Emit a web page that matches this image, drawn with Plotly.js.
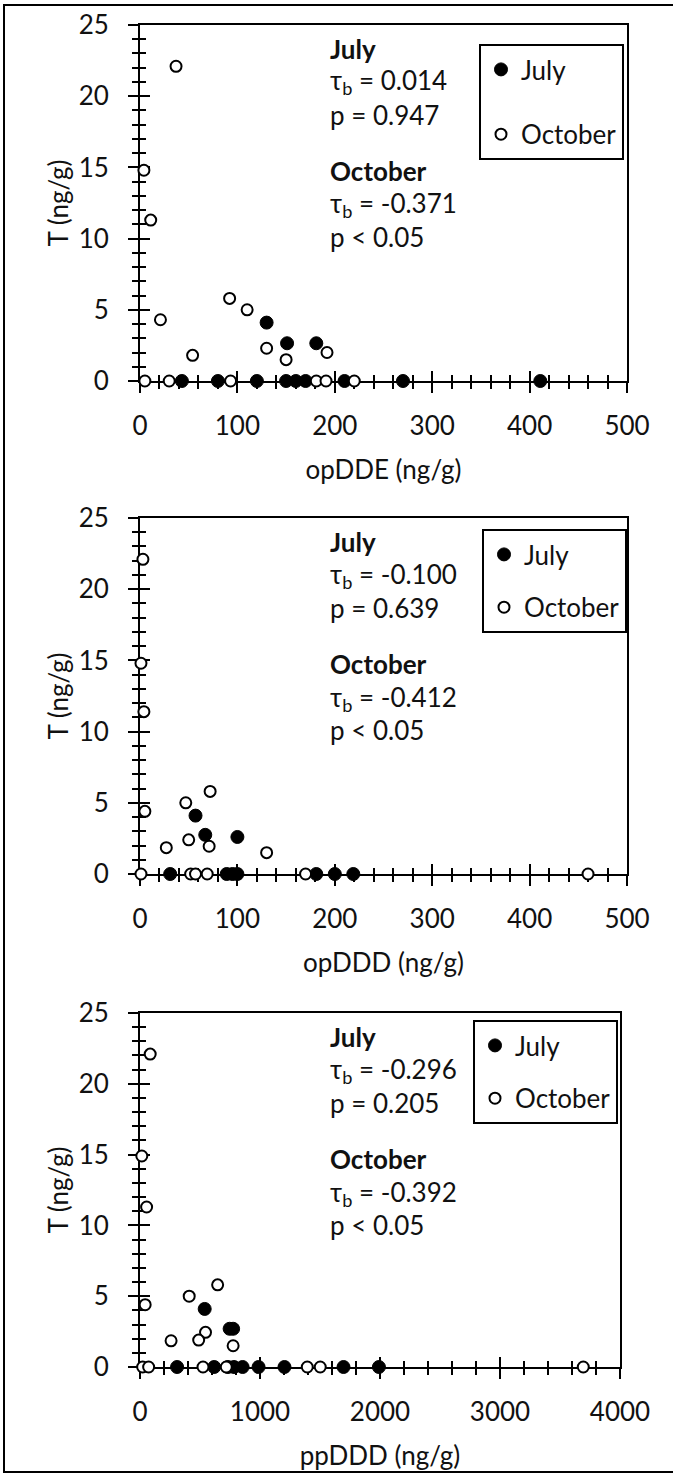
<!DOCTYPE html>
<html>
<head>
<meta charset="utf-8">
<script src="https://cdn.plot.ly/plotly-3.0.1.min.js"></script>
<style>
  html, body { margin: 0; padding: 0; background: #fff; }
  #chart { width: 673px; height: 1475px; }
</style>
</head>
<body>
<div id="chart"></div>
<script>
// Tetrachlorinated residue T versus three DDT metabolites, July and October surveys.

// --- opDDE panel ---
const opDDE_july_x = [130, 151, 181, 43, 80, 120, 150, 160, 170, 210, 270, 411];
const opDDE_july_T = [4.1, 2.65, 2.65, 0, 0, 0, 0, 0, 0, 0, 0, 0];
const opDDE_oct_x  = [37, 4, 11, 21, 54, 92, 110, 130, 150, 192, 5, 30, 93, 181, 191, 220];
const opDDE_oct_T  = [22.1, 14.8, 11.3, 4.3, 1.8, 5.8, 5.0, 2.3, 1.5, 2.0, 0, 0, 0, 0, 0, 0];

// --- opDDD panel ---
const opDDD_july_x = [57, 67, 100, 31, 89, 95, 100, 181, 200, 219];
const opDDD_july_T = [4.1, 2.75, 2.6, 0, 0, 0, 0, 0, 0, 0];
const opDDD_oct_x  = [3, 1, 4, 5, 47, 72, 50, 27, 71, 130, 1, 52, 57, 69, 170, 460];
const opDDD_oct_T  = [22.1, 14.8, 11.4, 4.4, 5.0, 5.8, 2.4, 1.85, 1.95, 1.5, 0, 0, 0, 0, 0, 0];

// --- ppDDD panel ---
const ppDDD_july_x = [539, 747, 776, 309, 618, 733, 783, 855, 988, 1204, 1696, 1991];
const ppDDD_july_T = [4.1, 2.7, 2.7, 0, 0, 0, 0, 0, 0, 0, 0, 0];
const ppDDD_oct_x  = [85, 15, 55, 43, 410, 647, 546, 489, 259, 776, 22, 72, 525, 719, 1394, 1502, 3694];
const ppDDD_oct_T  = [22.1, 14.9, 11.3, 4.4, 5.0, 5.8, 2.45, 1.9, 1.85, 1.5, 0, 0, 0, 0, 0, 0, 0];

// Kendall tau-b statistics printed inside each panel
const xTitles   = ['opDDE (ng/g)', 'opDDD (ng/g)', 'ppDDD (ng/g)'];
const yTitle    = 'T (ng/g)';
const julyTau   = ['0.014', '-0.100', '-0.296'];
const julyP     = ['= 0.947', '= 0.639', '= 0.205'];
const octTau    = ['-0.371', '-0.412', '-0.392'];
const octP      = ['< 0.05', '< 0.05', '< 0.05'];
const seriesNames = ['July', 'October'];

const W = 673, H = 1475;
const FONT = 'Lato, "Liberation Sans", sans-serif';
const INK = '#111';

const panels = [
  { jx: opDDE_july_x, jy: opDDE_july_T, ox: opDDE_oct_x, oy: opDDE_oct_T,
    top: 25, bottom: 381, right: 627, xmax: 500, dtick: 100, minor: 20,
    legTop: 44, legLeft: 479, gap: 28 },
  { jx: opDDD_july_x, jy: opDDD_july_T, ox: opDDD_oct_x, oy: opDDD_oct_T,
    top: 518, bottom: 874, right: 627, xmax: 500, dtick: 100, minor: 20,
    legTop: 529, legLeft: 482, gap: 16 },
  { jx: ppDDD_july_x, jy: ppDDD_july_T, ox: ppDDD_oct_x, oy: ppDDD_oct_T,
    top: 1013, bottom: 1367, right: 620, xmax: 4000, dtick: 1000, minor: 200,
    legTop: 1020, legLeft: 473, gap: 16 }
];

const traces = [];
const layout = {
  width: W, height: H,
  margin: { l: 0, r: 0, t: 0, b: 0 },
  paper_bgcolor: '#fff',
  plot_bgcolor: '#fff',
  font: { family: FONT, size: 26, color: INK },
  showlegend: true,
  annotations: [],
  shapes: [
    // thin frame round the whole figure
    { type: 'rect', xref: 'paper', yref: 'paper',
      x0: 4 / W, x1: 1.01, y0: 1 - 1472 / H, y1: 1 - 5 / H,
      line: { color: '#000', width: 2 }, fillcolor: 'rgba(0,0,0,0)', layer: 'below' }
  ]
};

const tickStyle = { tickcolor: '#000', tickwidth: 2 };

panels.forEach((p, i) => {
  const n = i === 0 ? '' : String(i + 1);
  const o = String(i + 4);
  const xId = 'x' + n, yId = 'y' + n, oxId = 'x' + o, oyId = 'y' + o;
  const legId = i === 0 ? 'legend' : 'legend' + (i + 1);
  const xDom = [140 / W, p.right / W];
  const yDom = [1 - p.bottom / H, 1 - p.top / H];

  // main axes: outward half of each tick, labels, titles, frame lines
  layout['xaxis' + n] = Object.assign({
    domain: xDom, anchor: yId, range: [0, p.xmax], tick0: 0, dtick: p.dtick,
    ticks: 'outside', ticklen: 10,
    minor: Object.assign({ dtick: p.minor, ticks: 'outside', ticklen: 6, showgrid: false }, tickStyle),
    showline: true, linecolor: '#000', linewidth: 2, mirror: true,
    showgrid: false, zeroline: false, layer: 'below traces', fixedrange: true,
    tickfont: { family: FONT, size: 26, color: INK }, ticklabelstandoff: 11,
    title: { text: xTitles[i], font: { family: FONT, size: 26, color: INK }, standoff: 21 }
  }, tickStyle);
  layout['yaxis' + n] = Object.assign({
    domain: yDom, anchor: xId, range: [0, 25], tick0: 0, dtick: 5,
    ticks: 'outside', ticklen: 10,
    minor: Object.assign({ dtick: 1, ticks: 'outside', ticklen: 6, showgrid: false }, tickStyle),
    showline: true, linecolor: '#000', linewidth: 2, mirror: true,
    showgrid: false, zeroline: false, layer: 'below traces', fixedrange: true,
    tickfont: { family: FONT, size: 26, color: INK }, ticklabelstandoff: 14,
    title: { text: yTitle, font: { family: FONT, size: 26, color: INK }, standoff: 3 }
  }, tickStyle);

  // overlaid axes: inward half of each tick, so the ticks cross the axis line
  layout['xaxis' + o] = Object.assign({
    overlaying: xId, anchor: oyId, range: [0, p.xmax], tick0: 0, dtick: p.dtick,
    ticks: 'inside', ticklen: 10,
    minor: Object.assign({ dtick: p.minor, ticks: 'inside', ticklen: 6, showgrid: false }, tickStyle),
    showticklabels: false, showline: false, showgrid: false, zeroline: false,
    layer: 'below traces', fixedrange: true
  }, tickStyle);
  layout['yaxis' + o] = Object.assign({
    overlaying: yId, anchor: oxId, range: [0, 25], tick0: 0, dtick: 5,
    ticks: 'inside', ticklen: 10,
    minor: Object.assign({ dtick: 1, ticks: 'inside', ticklen: 6, showgrid: false }, tickStyle),
    showticklabels: false, showline: false, showgrid: false, zeroline: false,
    layer: 'below traces', fixedrange: true
  }, tickStyle);

  layout[legId] = {
    x: p.legLeft / W, y: 1 - p.legTop / H, xanchor: 'left', yanchor: 'top',
    bgcolor: '#fff', bordercolor: '#000', borderwidth: 2,
    font: { family: FONT, size: 26, color: INK },
    traceorder: 'grouped', tracegroupgap: p.gap, itemclick: false, itemdoubleclick: false
  };

  // empty trace keeps the base subplot alive underneath the data subplot
  traces.push({ type: 'scatter', mode: 'markers', x: [], y: [], xaxis: xId, yaxis: yId,
    showlegend: false, hoverinfo: 'skip' });

  traces.push({
    type: 'scatter', mode: 'markers', name: seriesNames[0], legend: legId, legendgroup: 'j' + i,
    x: p.jx, y: p.jy, xaxis: oxId, yaxis: oyId, cliponaxis: false,
    marker: { symbol: 'circle', size: 13, color: '#000', line: { color: '#000', width: 1 } }
  });
  traces.push({
    type: 'scatter', mode: 'markers', name: seriesNames[1], legend: legId, legendgroup: 'o' + i,
    x: p.ox, y: p.oy, xaxis: oxId, yaxis: oyId, cliponaxis: false,
    marker: { symbol: 'circle', size: 11, color: '#fff', line: { color: '#000', width: 2 } }
  });

  // statistics block
  const ax = (328 - 140) / (p.right - 140);
  const lines = [
    { t: '<b>July</b>', c: 24 },
    { t: 'τ<sub>b</sub> = ' + julyTau[i], c: 57 },
    { t: 'p ' + julyP[i], c: 90 },
    { t: '<b>October</b>', c: 146 },
    { t: 'τ<sub>b</sub> = ' + octTau[i], c: 180 },
    { t: 'p ' + octP[i], c: 212 }
  ];
  const span = p.bottom - p.top;
  lines.forEach(l => {
    layout.annotations.push({
      xref: xId + ' domain', yref: yId + ' domain',
      x: ax, y: 1 - l.c / span, xanchor: 'left', yanchor: 'middle',
      text: l.t, showarrow: false, align: 'left',
      font: { family: FONT, size: 26, color: INK }
    });
  });
});

Plotly.newPlot('chart', traces, layout, { staticPlot: true, displayModeBar: false });
</script>
</body>
</html>
